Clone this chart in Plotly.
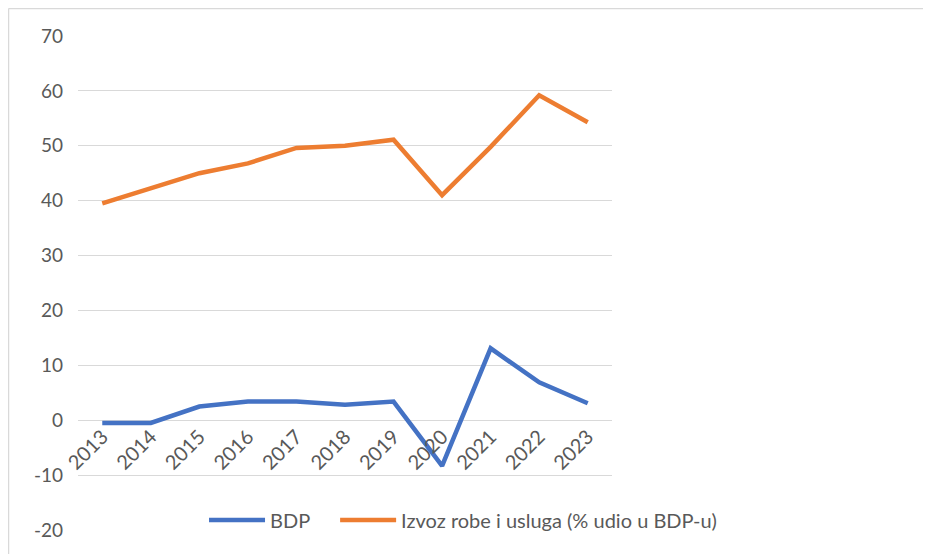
import plotly.graph_objects as go

years = ["2013", "2014", "2015", "2016", "2017", "2018", "2019", "2020", "2021", "2022", "2023"]
bdp = [-0.5, -0.5, 2.5, 3.4, 3.4, 2.8, 3.4, -8.3, 13.1, 6.9, 3.1]
izvoz = [39.5, 42.2, 45.0, 46.8, 49.6, 50.0, 51.1, 41.0, 49.8, 59.2, 54.3]
y_ticks = [-20, -10, 0, 10, 20, 30, 40, 50, 60, 70]
y_tick_labels = ["-20", "-10", "0", "10", "20", "30", "40", "50", "60", "70"]
series_names = ["BDP", "Izvoz robe i usluga (% udio u BDP-u)"]

FONT = "Lato"
GRAY = "#595959"
PAD = "\u00a0" * 4

fig = go.Figure()
fig.add_trace(go.Scatter(x=years, y=bdp, mode="lines", name=series_names[0] + PAD,
                         line=dict(color="#4472C4", width=4.5)))
fig.add_trace(go.Scatter(x=years, y=izvoz, mode="lines", name=series_names[1],
                         line=dict(color="#ED7D31", width=4.5)))

ymin, ymax = -20, 70
W, H = 931, 554
L, T, PW, PH = 70, 28, 534, 494
bx0 = (0.5 - L) / PW
by1 = (T + PH - 0.5) / PH
fig.update_layout(
    width=W, height=H,
    margin=dict(l=L, r=W - L - PW, t=T, b=H - T - PH, autoexpand=False),
    paper_bgcolor="white", plot_bgcolor="white",
    font=dict(family=FONT, color=GRAY, size=19),
    showlegend=True,
    legend=dict(orientation="h", x=0.236, y=0.02, xanchor="left", yanchor="middle",
                font=dict(family=FONT, size=20, color=GRAY), bgcolor="rgba(0,0,0,0)",
                tracegroupgap=0, itemwidth=56),
    xaxis=dict(type="category", anchor="free", position=(0 - ymin) / (ymax - ymin),
               range=[-0.5, len(years) - 0.5],
               tickangle=-45, showgrid=False, showline=False, ticks="",
               automargin=False,
               tickfont=dict(family=FONT, size=20, color=GRAY)),
    yaxis=dict(range=[ymin, ymax], tickvals=y_ticks, ticktext=y_tick_labels,
               showgrid=True, gridcolor="#D9D9D9",
               gridwidth=1.3, zeroline=False, showline=False, ticks="",
               ticklabelstandoff=14, automargin=False,
               tickfont=dict(family=FONT, size=19, color=GRAY)),
    shapes=[
        dict(type="line", xref="paper", yref="paper", x0=bx0, x1=3, y0=by1, y1=by1,
             line=dict(color="#D9D9D9", width=1.5), layer="below"),
        dict(type="line", xref="paper", yref="paper", x0=bx0, x1=bx0, y0=-1, y1=by1,
             line=dict(color="#D9D9D9", width=1.5), layer="below"),
    ],
)

fig.write_html("out.html")
